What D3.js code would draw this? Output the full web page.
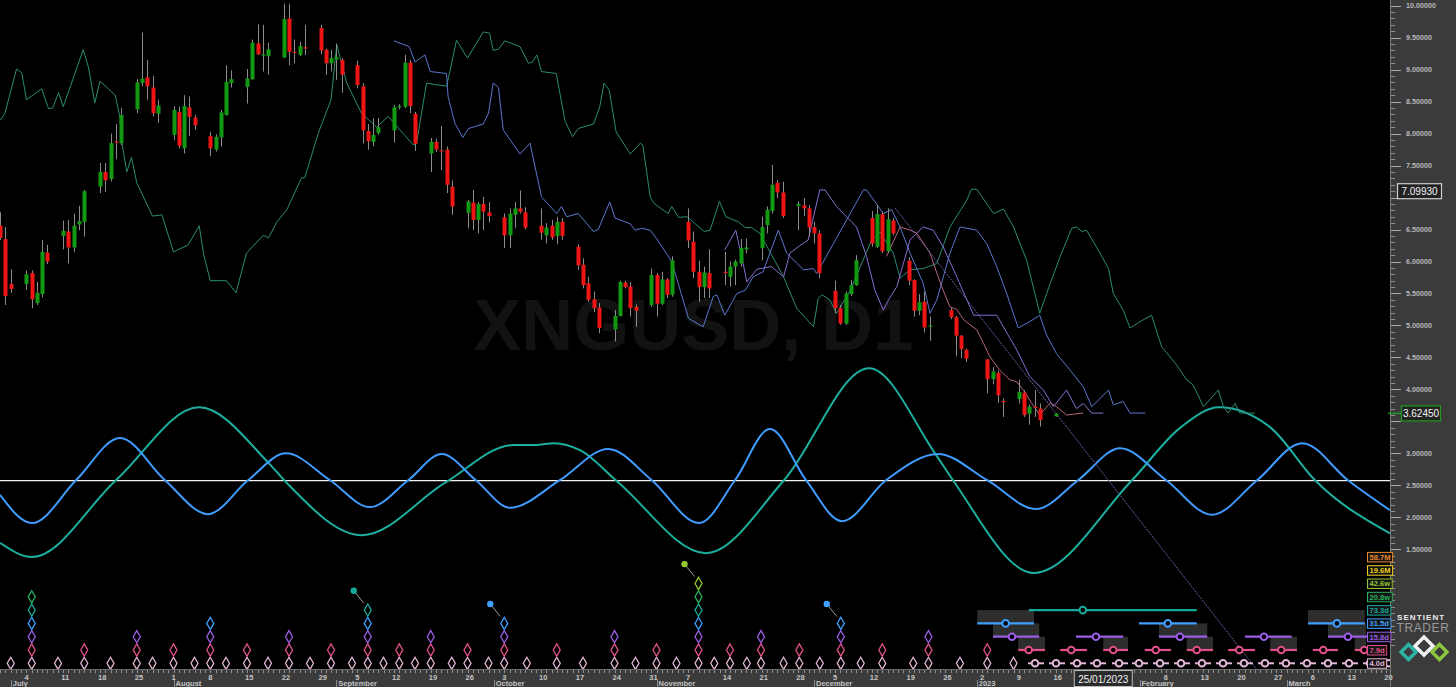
<!DOCTYPE html>
<html><head><meta charset="utf-8">
<script src="https://cdn.jsdelivr.net/npm/d3@7"></script>
<style>
html,body{margin:0;padding:0;background:#000;overflow:hidden}
svg{display:block}
</style></head><body>
<svg id="chart" width="1456" height="687"></svg>
<script>
// ================= DATA =================
const BASE = Date.UTC(2022, 6, 4);          // day 0 = Mon 4 Jul 2022
const candleStart = "2022-06-29", candleEnd = "2023-01-16";
const holidays = ["2022-12-26", "2023-01-02"];

const opens = [6.56,6.35,5.65, 5.65,5.82,5.35,5.49,6.14, 6.40,6.47,6.22,6.58,6.62, 7.17,7.40,7.29,7.88,7.85, 8.38,8.79,8.88,8.72,8.31, 7.98,8.34,7.77,8.41,8.25, 7.96,7.75,7.94,8.29,8.79, 8.73,8.85,9.41,9.22,9.21, 9.19,9.80,9.28,9.23,9.35, 9.65,9.31,9.10,9.16,9.15, 9.07,8.74,8.04,7.87,8.01, 8.05,8.42,8.42,9.11,8.31, 7.69,7.87,7.74,7.75,7.17, 6.76,6.92,6.65,6.90,6.77, 6.69,6.41,6.73,6.83,6.77, 6.56,6.41,6.56,6.40,6.62, 6.23,5.95,5.66,5.41,5.28, 4.94,5.15,5.67,5.61,5.29, 5.32,5.79,5.34,5.72,5.48, 6.62,6.31,5.84,5.60,5.82, 5.84,5.76,5.92,5.97,6.19, 6.21,6.57,6.79,7.23,7.08, 6.87,6.88,6.83,6.54,6.44, 5.54,5.27,5.03,5.49,5.63, 6.68,6.23,6.74,6.16,6.64, 6.01,5.71,5.23,5.37,4.98, 5.24,5.13,4.84,4.62, 4.47,4.16,4.26,3.82, 3.85,3.95,3.62,3.73,3.70, 3.58];
const highs = [6.77,6.54,5.88, 5.86,5.86,5.68,6.34,6.26, 6.64,6.65,6.75,6.87,7.12, 7.54,7.54,8.00,8.15,8.40, 8.85,9.58,9.15,8.90,8.53, 8.43,8.42,8.60,8.58,8.29, 8.03,7.99,8.37,9.07,8.99, 9.01,9.47,9.71,9.70,9.42, 10.03,10.03,9.47,9.44,9.70, 9.70,9.33,9.31,9.41,9.18, 9.14,8.79,8.15,8.24,8.24, 8.45,8.46,9.23,9.15,8.34, 7.93,7.92,8.12,7.80,7.27, 6.96,7.12,6.93,7.01,6.93, 6.75,6.83,6.93,7.11,6.85, 6.83,6.60,6.65,6.70,6.68, 6.27,6.05,5.76,5.53,5.35, 5.24,5.70,5.70,5.68,5.33, 5.89,5.82,5.84,5.74,6.08, 6.83,6.47,6.01,5.92,6.19, 6.15,6.00,6.03,6.35,6.36, 6.70,6.86,7.51,7.27,7.25, 6.94,6.99,6.88,6.62,6.49, 5.70,5.32,5.53,5.71,6.10, 6.79,6.88,6.78,6.83,6.68, 6.07,5.72,5.49,5.53,5.14, 5.27,5.15,4.85,4.64, 4.47,4.35,4.30,3.86, 4.15,3.99,3.76,3.99,3.78, 3.63];
const lows = [6.34,5.32,5.51, 5.56,5.27,5.32,5.44,5.96, 6.19,5.97,6.15,6.49,6.39, 7.07,7.09,7.25,7.60,7.82, 8.32,8.74,8.53,8.27,8.17, 7.90,7.77,7.69,7.96,8.06, 7.65,7.72,7.80,8.28,8.72, 8.47,8.84,9.23,8.97,8.92, 9.18,9.07,9.10,9.21,9.23, 9.24,8.92,8.97,8.84,8.64, 8.71,7.85,7.75,7.80,7.98, 7.86,8.38,8.40,8.32,7.73, 7.40,7.71,7.43,7.07,6.73, 6.52,6.49,6.44,6.49,6.61, 6.21,6.21,6.52,6.75,6.50, 6.34,6.28,6.34,6.27,6.34, 5.87,5.58,5.37,5.21,4.88, 4.75,5.14,5.58,5.14,4.98, 5.29,5.14,5.32,5.43,5.45, 6.21,5.74,5.37,5.43,5.43, 5.63,5.61,5.63,5.92,6.13, 6.02,6.44,6.75,6.99,6.68, 6.49,6.71,6.39,6.28,5.74, 5.19,5.01,5.01,5.46,5.62, 6.23,6.21,6.13,6.13,6.41, 5.63,5.14,5.16,4.89,4.76, 5.10,4.52,4.49,4.43, 3.94,4.08,3.79,3.57, 3.78,3.57,3.45,3.57,3.42, 3.57];
const closes = [6.37,5.46,5.57, 5.80,5.41,5.51,6.15,6.00, 6.48,6.22,6.56,6.63,7.10, 7.40,7.27,7.85,7.86,8.29, 8.80,8.86,8.74,8.32,8.44, 8.37,7.81,8.43,8.26,8.13, 7.77,7.95,8.33,8.81,8.85, 8.86,9.42,9.24,9.24,9.32, 9.79,9.28,9.27,9.37,9.33, 9.30,9.10,9.18,9.20,8.92, 8.76,8.05,7.88,7.98,8.10, 8.41,8.43,9.11,8.43,7.84, 7.87,7.75,7.73,7.20,6.86, 6.94,6.65,6.90,6.78,6.71, 6.41,6.75,6.83,6.78,6.53, 6.45,6.53,6.38,6.62,6.40, 5.94,5.63,5.40,5.27,4.96, 5.15,5.68,5.60,5.27,5.23, 5.79,5.34,5.72,5.48,6.02, 6.33,5.84,5.60,5.83,5.58, 5.82,5.92,6.00,6.21,6.22, 6.54,6.81,7.20,7.08,6.71, 6.90,6.83,6.53,6.44,5.82, 5.27,5.03,5.50,5.63,6.02, 6.28,6.74,6.16,6.66,6.44, 5.70,5.23,5.36,4.97,5.00, 5.13,4.84,4.63,4.48, 4.16,4.28,3.91,3.80, 3.96,3.60,3.73,3.71,3.52, 3.62];

// displaced-price (FLD) lines: [day, price]
const fldTeal = [[-5.0,8.21],[-4.1,8.32],[-1.9,9.01],[-0.9,8.95],[0.0,8.53],[2.9,8.70],[4.2,8.39],[5.0,8.40],[6.1,8.64],[7.0,8.42],[10.8,9.31],[11.8,9.04],[13.0,8.48],[14.0,8.82],[16.9,8.60],[17.8,8.26],[18.1,7.90],[19.1,7.40],[20.0,7.63],[21.0,7.23],[24.0,6.71],[25.8,6.73],[28.0,6.15],[30.8,6.26],[32.9,6.56],[33.7,6.13],[35.0,5.70],[38.1,5.70],[39.9,5.51],[41.9,6.13],[45.1,6.41],[46.1,6.37],[47.7,6.62],[49.6,6.81],[52.4,7.31],[53.0,7.31],[55.6,8.01],[58.0,8.53],[59.1,9.39],[61.0,8.79],[63.8,8.32],[66.7,8.10],[68.9,8.27],[71.1,8.06],[73.7,7.82],[74.3,7.85],[76.2,8.79],[80.0,8.74],[80.7,8.99],[81.9,9.46],[84.0,9.18],[87.0,9.59],[88.2,9.57],[88.9,9.30],[89.9,9.32],[91.1,9.45],[94.0,9.36],[95.6,9.10],[96.4,9.12],[97.2,9.23],[98.1,8.97],[100.9,8.94],[102.6,8.19],[104.0,7.95],[105.1,8.08],[108.0,8.15],[109.2,8.42],[110.0,8.79],[111.0,8.68],[112.3,8.03],[115.0,7.68],[116.9,7.85],[117.4,7.82],[118.8,7.01],[119.5,6.91],[122.2,6.75],[122.9,6.86],[124.2,6.69],[125.8,6.70],[129.1,6.47],[130.2,6.49],[132.0,6.94],[133.2,6.70],[135.6,6.62],[136.9,6.53],[138.1,6.53],[139.7,6.44],[144.2,5.76],[146.7,5.27],[149.9,4.98],[150.8,5.42],[151.5,5.48],[153.0,5.40],[154.3,5.19],[156.9,5.55],[161.0,6.34],[162.6,6.46],[165.1,6.13],[166.4,5.74],[168.3,5.87],[170.8,5.89],[173.4,5.97],[175.9,6.54],[179.1,6.96],[180.0,7.13],[181.0,7.13],[184.2,6.75],[186.1,6.82],[188.0,6.54],[190.5,6.02],[193.0,5.19],[195.0,5.66],[196.9,6.08],[199.1,6.52],[200.0,6.54],[201.0,6.47],[201.9,6.49],[203.8,6.23],[206.1,5.89],[207.0,5.50],[208.9,5.24],[210.2,4.96],[212.1,5.06],[214.3,5.16],[216.2,4.67],[218.8,4.41],[221.0,4.15],[222.2,4.07],[224.2,3.73],[227.0,3.99],[228.0,3.73],[228.9,3.63],[230.2,3.78],[231.1,3.63],[234.0,3.63]];
const fldBlue = [[70.0,9.45],[72.9,9.36],[74.0,9.12],[75.9,9.23],[76.9,8.97],[80.0,8.94],[80.3,8.58],[81.6,8.16],[83.1,7.94],[84.2,8.08],[87.0,8.15],[88.0,8.32],[88.9,8.79],[89.9,8.72],[90.8,8.06],[94.0,7.68],[95.9,7.85],[98.1,7.01],[101.0,6.75],[101.9,6.86],[102.9,6.70],[105.1,6.75],[108.0,6.47],[108.9,6.50],[111.1,6.93],[112.1,6.68],[115.0,6.59],[115.9,6.49],[117.2,6.52],[118.8,6.49],[120.0,6.36],[122.9,6.00],[126.1,5.11],[128.9,4.98],[130.8,5.45],[131.5,5.48],[133.0,5.16],[135.3,5.50],[136.9,5.55],[138.4,5.76],[140.3,5.84],[143.2,6.49],[144.8,6.13],[148.0,5.87],[149.9,5.89],[150.5,5.81],[153.7,6.28],[159.4,7.12],[160.0,7.12],[163.2,6.75],[164.8,6.81],[166.4,6.54],[168.3,6.13],[170.8,5.66],[172.1,5.19],[173.4,5.40],[175.9,6.13],[177.8,6.54],[181.0,6.49],[182.9,6.28],[184.8,5.92],[186.7,5.50],[188.9,4.96],[191.1,5.06],[193.0,5.16],[194.3,4.85],[196.2,4.56],[198.8,4.30],[201.3,4.04],[202.9,3.73],[206.1,3.99],[207.0,3.76],[208.9,3.81],[210.2,3.63],[213.1,3.63]];
const fldViolet = [[133.0,6.18],[135.1,6.49],[136.5,5.97],[137.2,5.68],[139.1,5.88],[141.9,5.92],[144.2,5.76],[145.4,6.13],[147.0,6.23],[148.9,6.34],[151.1,7.12],[152.1,7.12],[154.3,6.86],[156.2,6.70],[158.1,6.54],[160.0,6.08],[161.6,5.55],[163.2,5.24],[164.2,5.40],[165.8,5.61],[168.3,6.34],[170.8,6.54],[172.7,6.49],[174.6,6.23],[177.2,5.76],[180.4,5.16],[184.8,5.16],[188.6,4.62],[191.1,4.20],[193.7,3.99],[195.6,3.73],[198.1,3.99],[200.0,3.70],[201.3,3.78],[202.9,3.63],[205.1,3.63]];
const fldPink = [[163.8,6.08],[166.4,6.54],[168.3,6.49],[169.6,6.44],[172.1,6.13],[173.4,5.82],[174.6,5.55],[175.9,5.29],[177.2,5.25],[178.5,5.09],[181.0,4.93],[182.3,4.72],[183.5,4.51],[185.4,4.30],[187.3,4.15],[188.6,4.12],[189.9,3.99],[191.5,3.78],[193.0,3.60],[195.0,3.79],[196.2,3.73],[198.1,3.60],[201.3,3.63]];
const trendLine = [[165.4,6.84],[236.9,-0.65]];

// cycle composite waves: [day, value]
const waveTeal = [[-5.05,1.60],[1.05,1.38],[17.05,2.58],[32.86,3.72],[46.0,2.86],[49.43,2.55],[63.9,1.72],[79.9,2.55],[92.67,3.13],[97.05,3.13],[100.48,3.16],[105.43,3.05],[112.67,2.55],[129.43,1.44],[144.29,2.58],[160.48,4.33],[173.05,3.00],[176.48,2.58],[191.9,1.13],[210.57,2.58],[219.9,3.41],[227.14,3.72],[236.86,3.41],[245.43,2.58],[259.7,1.75]];
const waveBlue = [[-5.05,2.35],[1.05,1.91],[9.43,2.58],[17.81,3.24],[26.38,2.58],[34.57,2.05],[42.19,2.58],[49.43,3.00],[57.81,2.58],[65.4,2.16],[72.7,2.58],[79.1,2.99],[85.6,2.58],[92.1,2.15],[101.6,2.58],[110.8,3.07],[119.1,2.58],[128.1,1.91],[134.95,2.58],[141.62,3.38],[148.48,2.58],[155.33,1.94],[163.71,2.58],[173.62,2.99],[183.0,2.58],[192.3,2.13],[200.3,2.58],[208.3,3.08],[217.1,2.58],[225.8,2.04],[234.4,2.58],[243.0,3.16],[251.7,2.58],[259.71,2.11]];
const zeroLevel = 2.575;

// cycle troughs (day, highest cycle level)
const cycleNames = ["4.0d","7.9d","15.8d","31.5d","73.3d","20.8w","42.6w","19.6M","58.7M"];
const troughDays = [-3,1,6,11,16,21,24,28,32,35,38,42,46,50,54,58,62,65,68,71,74,77,81,84,88,91,95.3,101,106,112,116,120,123.8,128,131,134,137.2,139.9,144.2,147.2,151.1,155.1,158.9,163,168.9,171.8,177.8,183,188];
const troughLevels = [1,6,1,2,1,3,1,2,1,4,1,2,1,3,1,2,1,5,1,2,1,3,1,2,1,4,1,2,1,3,1,2,1,7,1,2,1,3,1,2,1,4,1,2,1,3,1,2,1];
const pinDays = [65, 91, 128, 155.1];

// projected troughs: [start, centre, end] days, per cycle level
const projTeal = [[190.9,201.2,222.9]];
const projBlue = [[181.1,186.5,191.9],[211.9,217.4,222.9],[244.1,249.6,254.9]];
const projViolet = [[184.1,187.7,192.9],[199.9,203.7,208.9],[215.7,219.7,224.9],[232.1,235.7,241.0],[247.9,251.7,255.9]];
const projPink = [[188.9,190.9,194.0],[196.9,199.0,202.0],[205.1,207.0,209.8],[213.0,215.1,218.0],[221.0,222.9,226.0],[228.9,231.0,234.0],[236.9,239.0,242.0],[245.0,247.0,249.8],[253.0,254.8,255.6]];
const projPale = [192.1,196.1,200.1,203.9,208.1,211.9,215.9,219.9,223.9,227.9,231.9,235.9,239.9,243.9,247.9,251.9,255.9,259.5];

const priceTicks = [10,9.5,9,8.5,8,7.5,7,6.5,6,5.5,5,4.5,4,3.5,3,2.5,2,1.5];
const monthLabels = [["2022-07-01","July"],["2022-08-01","August"],["2022-09-01","September"],["2022-10-01","October"],["2022-11-01","November"],["2022-12-01","December"],["2023-01-01","2023"],["2023-02-01","February"],["2023-03-01","March"]];
const lastPrice = 3.6245, markPrice = 7.0993, cursorDate = "2023-01-25";
const symbolText = "XNGUSD, D1";

// ================= STYLE =================
const W = 1456, H = 687, PR = 1390, PB = 669;
const levelColors = ["#e2b6d6","#e2508c","#9a5ee6","#3fa0ff","#17aa9c","#27b45e","#93c72c","#f0d020","#e8862a"];
const FONT = "'Liberation Sans', Arial, sans-serif";

const parse = s => Date.parse(s + "T00:00:00Z");
const dayOf = t => (t - BASE) / 864e5;
const x = d3.scaleLinear().domain([-5.0476, 259.714]).range([0, PR]);
const y = d3.scaleLinear().domain([1.5, 10]).range([549.3, 5.7]);
const row = d3.scaleLinear().domain([1, 9]).range([663.3, 556.9]);

const svg = d3.select("#chart");
svg.append("rect").attr("width", W).attr("height", H).attr("fill", "#000");
svg.append("defs").append("clipPath").attr("id", "pc")
  .append("rect").attr("x", 0).attr("y", 0).attr("width", PR).attr("height", PB);

// watermark
svg.append("text").attr("x", x(dayOf(parse("2022-11-08")))).attr("y", 350)
  .attr("text-anchor", "middle").attr("font-family", FONT).attr("font-weight", "bold")
  .attr("font-size", 72).attr("fill", "#121212").text(symbolText);

const plot = svg.append("g").attr("clip-path", "url(#pc)");

// zero line & waves
plot.append("line").attr("x1", 0).attr("x2", PR + 2).attr("y1", y(zeroLevel)).attr("y2", y(zeroLevel))
  .attr("stroke", "#f2f2f2").attr("stroke-width", 1.2);
const waveLine = d3.line().x(d => x(d[0])).y(d => y(d[1])).curve(d3.curveMonotoneX);
plot.append("path").attr("d", waveLine(waveTeal)).attr("fill", "none").attr("stroke", "#1cae9f").attr("stroke-width", 2);
plot.append("path").attr("d", waveLine(waveBlue)).attr("fill", "none").attr("stroke", "#3f9cff").attr("stroke-width", 2);

// FLD lines
const lin = d3.line().x(d => x(d[0])).y(d => y(d[1]));
[[fldTeal,"#2c8c70"],[fldBlue,"#5a78cc"],[fldViolet,"#8a6cd2"],[fldPink,"#b4667e"]].forEach(([s,c]) => {
  plot.append("path").attr("d", lin(s)).attr("fill", "none").attr("stroke", c).attr("stroke-width", 1);
});
plot.append("path").attr("d", lin(trendLine)).attr("fill", "none").attr("stroke", "#6e5ea4")
  .attr("stroke-width", 1).attr("stroke-dasharray", "2,1");

// candles
const hol = new Set(holidays);
const candleDates = d3.utcDay.range(new Date(parse(candleStart)), new Date(parse(candleEnd) + 864e5))
  .filter(d => d.getUTCDay() > 0 && d.getUTCDay() < 6 && !hol.has(d.toISOString().slice(0, 10)));
const candles = candleDates.map((d, i) => ({ d: dayOf(+d), o: opens[i], h: highs[i], l: lows[i], c: closes[i] }));
const cg = plot.append("g");
cg.selectAll("line").data(candles).join("line")
  .attr("x1", d => Math.round(x(d.d)) + 0.5).attr("x2", d => Math.round(x(d.d)) + 0.5)
  .attr("y1", d => y(d.h)).attr("y2", d => y(d.l)).attr("stroke", "#8c8c8c").attr("stroke-width", 1);
cg.selectAll("rect").data(candles).join("rect")
  .attr("x", d => Math.round(x(d.d)) - 1.5).attr("width", 4)
  .attr("y", d => y(Math.max(d.o, d.c))).attr("height", d => Math.max(1.2, Math.abs(y(d.o) - y(d.c))))
  .attr("fill", d => d.c >= d.o ? "#119a11" : "#f01414");

// ---------- cycle trough diamonds ----------
const dia = "M0,-6.1L3.5,0L0,6.1L-3.5,0Z";
const dg = svg.append("g");
troughDays.forEach((td, i) => {
  for (let k = 1; k <= troughLevels[i]; k++) {
    dg.append("path").attr("d", dia).attr("transform", `translate(${x(td)},${row(k)})`)
      .attr("fill", "none").attr("stroke", levelColors[k - 1]).attr("stroke-width", 1.3);
  }
});
pinDays.forEach(pd => {
  const i = troughDays.indexOf(pd), lv = troughLevels[i];
  const cx = x(pd), cy = row(lv);
  dg.append("line").attr("x1", cx - 14).attr("y1", cy - 19.4).attr("x2", cx - 4).attr("y2", cy - 7)
    .attr("stroke", "#9a9a9a").attr("stroke-width", 1);
  dg.append("circle").attr("cx", cx - 14).attr("cy", cy - 19.4).attr("r", 3.2).attr("fill", levelColors[lv - 1]);
});

// ---------- projections ----------
const pg = svg.append("g");
[[projBlue,4],[projViolet,3],[projPink,2]].forEach(([segs, lv]) => {
  segs.forEach((s, j) => {
    if (j % 2 === 0) {
      const x0 = x(s[0]), x1 = Math.min(x(s[2]), 1366);
      pg.append("rect").attr("x", x0).attr("y", row(lv + 1)).attr("width", Math.max(0, x1 - x0))
        .attr("height", row(lv) - row(lv + 1)).attr("fill", "#2e2e2e");
    }
  });
});
[[projTeal,5],[projBlue,4],[projViolet,3],[projPink,2]].forEach(([segs, lv]) => {
  segs.forEach(s => {
    pg.append("line").attr("x1", x(s[0])).attr("x2", x(s[2])).attr("y1", row(lv)).attr("y2", row(lv))
      .attr("stroke", levelColors[lv - 1]).attr("stroke-width", 2.2);
    pg.append("circle").attr("cx", x(s[1])).attr("cy", row(lv)).attr("r", 3.3)
      .attr("fill", "#000").attr("stroke", levelColors[lv - 1]).attr("stroke-width", 2);
  });
});
projPale.forEach(c => {
  pg.append("line").attr("x1", x(c) - 7).attr("x2", x(c) + 9).attr("y1", row(1)).attr("y2", row(1))
    .attr("stroke", levelColors[0]).attr("stroke-width", 2);
  pg.append("circle").attr("cx", x(c)).attr("cy", row(1)).attr("r", 3.3)
    .attr("fill", "#000").attr("stroke", levelColors[0]).attr("stroke-width", 2);
});

// ---------- axes panels ----------
const ax = svg.append("g");
ax.append("rect").attr("x", 0).attr("y", PB).attr("width", PR).attr("height", H - PB).attr("fill", "#3b3b3b");
ax.append("rect").attr("x", PR).attr("y", 0).attr("width", W - PR).attr("height", H).attr("fill", "#3b3b3b");
ax.append("line").attr("x1", PR + 0.5).attr("x2", PR + 0.5).attr("y1", 0).attr("y2", H).attr("stroke", "#7a7a7a");
ax.append("line").attr("x1", 0).attr("x2", PR).attr("y1", PB + 0.5).attr("y2", PB + 0.5).attr("stroke", "#6a6a6a");

// price axis (labels hidden where the price boxes cover them)
const covered = [markPrice, lastPrice];
const minor = d3.range(0, 106).map(i => i / 10);
ax.selectAll(".mn").data(minor.filter(v => y(v) > 0 && y(v) < H)).join("line")
  .attr("x1", PR + 1).attr("x2", PR + 5).attr("y1", d => Math.round(y(d)) + 0.5).attr("y2", d => Math.round(y(d)) + 0.5)
  .attr("stroke", "#8e8e8e");
ax.selectAll(".mj").data(priceTicks).join("line")
  .attr("x1", PR + 1).attr("x2", PR + 11).attr("y1", d => Math.round(y(d)) + 0.5).attr("y2", d => Math.round(y(d)) + 0.5)
  .attr("stroke", "#a8a8a8");
ax.selectAll(".pl").data(priceTicks.filter(v => covered.every(c => Math.abs(y(v) - y(c)) > 10))).join("text")
  .attr("x", PR + 16).attr("y", d => y(d) + 2.6).attr("font-family", FONT).attr("font-size", 7.2)
  .attr("font-weight", "bold").attr("fill", "#b9b9b9").text(d => d3.format(".5f")(d));

// time axis
const cdx = x(dayOf(parse(cursorDate)));
const days = d3.utcDay.range(new Date(parse("2022-06-28")), new Date(parse("2023-03-21")));
ax.selectAll(".dt").data(days.filter(d => x(dayOf(+d)) >= 0 && x(dayOf(+d)) <= PR)).join("line")
  .attr("x1", d => Math.round(x(dayOf(+d))) + 0.5).attr("x2", d => Math.round(x(dayOf(+d))) + 0.5)
  .attr("y1", PB + 1).attr("y2", PB + 4).attr("stroke", "#909090");
const mondays = d3.utcMonday.range(new Date(parse("2022-07-01")), new Date(parse("2023-03-21")))
  .filter(d => Math.abs(x(dayOf(+d)) - cdx) > 34);
ax.selectAll(".wl").data(mondays).join("text")
  .attr("x", d => x(dayOf(+d)) - 2).attr("y", PB + 10.5).attr("font-family", FONT).attr("font-size", 7.5)
  .attr("font-weight", "bold").attr("fill", "#c4c4c4").text(d => d.getUTCDate());
monthLabels.forEach(([ds, name]) => {
  const mx = x(dayOf(parse(ds)));
  ax.append("line").attr("x1", Math.round(mx) + 0.5).attr("x2", Math.round(mx) + 0.5).attr("y1", PB + 11).attr("y2", H)
    .attr("stroke", "#8a8a8a");
  ax.append("text").attr("x", mx + 2).attr("y", H - 0.8).attr("font-family", FONT).attr("font-size", 7.5)
    .attr("font-weight", "bold").attr("fill", "#c4c4c4").text(name);
});

// cursor date box
ax.append("rect").attr("x", cdx - 28.5).attr("y", PB + 1.5).attr("width", 58).attr("height", 16)
  .attr("fill", "#2a2a2a").attr("stroke", "#bdbdbd");
ax.append("text").attr("x", cdx + 0.5).attr("y", PB + 13.5).attr("text-anchor", "middle").attr("font-family", FONT)
  .attr("font-size", 10).attr("fill", "#f4f4f4").text(cursorDate.split("-").reverse().join("/"));

// price label boxes
function priceBox(v, stroke, bx, bw) {
  const yy = y(v);
  ax.append("rect").attr("x", bx).attr("y", yy - 7.5).attr("width", bw).attr("height", 15)
    .attr("fill", "#222").attr("stroke", stroke).attr("stroke-width", 1.2);
  ax.append("text").attr("x", bx + bw / 2).attr("y", yy + 3.6).attr("text-anchor", "middle")
    .attr("font-family", FONT).attr("font-size", 10).attr("fill", "#f4f4f4").text(d3.format(".5f")(v));
}
priceBox(markPrice, "#cfcfcf", 1397.5, 44);
ax.append("line").attr("x1", PR - 2).attr("x2", 1402).attr("y1", y(lastPrice)).attr("y2", y(lastPrice))
  .attr("stroke", "#1f9a1f").attr("stroke-width", 1.5);
priceBox(lastPrice, "#1f9a1f", 1401.5, 39);

// cycle legend boxes
cycleNames.forEach((nm, i) => {
  const lv = i + 1, c = levelColors[i];
  const t = ax.append("text").attr("x", 1369.5).attr("y", row(lv) + 2.8).attr("font-family", FONT)
    .attr("font-size", 7.6).attr("font-weight", "bold").attr("fill", c).text(nm);
  const tw = t.node().getComputedTextLength();
  ax.insert("rect", "text:last-child").attr("x", 1367.5).attr("y", row(lv) - 4.5).attr("width", tw + 4)
    .attr("height", 9.5).attr("fill", "#151515").attr("stroke", c).attr("stroke-width", 1);
  t.raise();
});

// logo
const lg = svg.append("g");
lg.append("text").attr("x", 1397).attr("y", 619.5).attr("font-family", FONT).attr("font-weight", "bold")
  .attr("font-size", 8).attr("letter-spacing", 1.1).attr("fill", "#ececec").text("SENTIENT");
lg.append("text").attr("x", 1396.5).attr("y", 631.5).attr("font-family", FONT)
  .attr("font-size", 12).attr("letter-spacing", 0.6).attr("fill", "#9a9a9a").text("TRADER");
const dm = (cx, cy, r, col, sw) => lg.append("path")
  .attr("d", `M${cx},${cy - r}L${cx + r},${cy}L${cx},${cy + r}L${cx - r},${cy}Z`)
  .attr("fill", "none").attr("stroke", col).attr("stroke-width", sw).attr("stroke-linejoin", "miter");
dm(1408.5, 652, 7.5, "#2bb3a6", 3.4);
dm(1439.5, 652, 7.5, "#8cc63f", 3.4);
dm(1424, 646, 9, "#f2f2f2", 3.4);
</script>
</body></html>
